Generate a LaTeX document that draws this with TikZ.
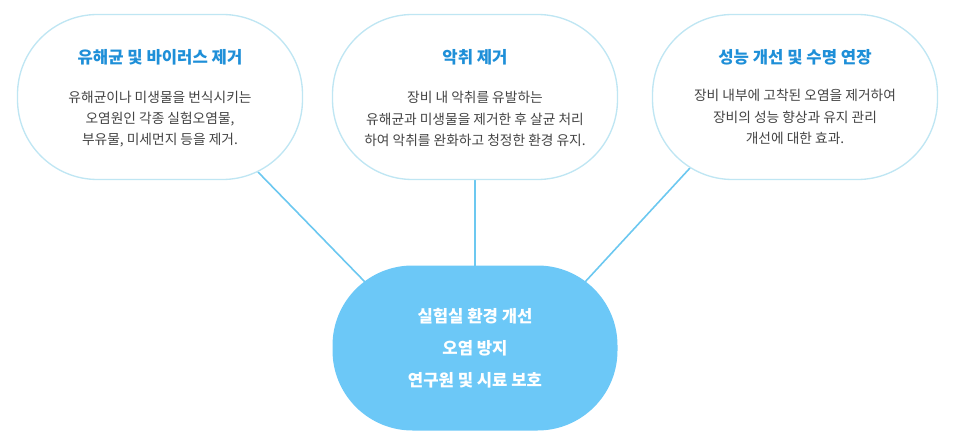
\documentclass[tikz,border=0pt]{standalone}
\usepackage{fontspec}
\setmainfont{Noto Sans CJK KR}
\definecolor{bord}{HTML}{BFE6F3}
\definecolor{ttl}{HTML}{1E8FD8}
\definecolor{body}{HTML}{444444}
\definecolor{fillc}{HTML}{6CC8F7}
\definecolor{linec}{HTML}{6CC8F0}
\tikzset{
 bubble/.style={draw=bord,line width=1pt,fill=white,rounded corners=60pt,minimum width=213.75pt,minimum height=123.75pt,inner sep=0pt},
 center/.style={fill=fillc,rounded corners=60pt,minimum width=213.75pt,minimum height=123.75pt,inner sep=0pt,text=white,font=\bfseries\fontsize{12.5}{24}\selectfont,align=center},
 ttlt/.style={text=ttl,font=\bfseries\fontsize{12.5}{14}\selectfont},
 bodyt/.style={text=body,font=\fontsize{10.3}{16}\selectfont,align=center},
 conn/.style={draw=linec,line width=1.2pt}
}
\begin{document}
\begin{tikzpicture}[x=0.75pt,y=-0.75pt]
\useasboundingbox (0,0) rectangle (966,445);
\draw[conn] (258,172) -- (365,282);
\draw[conn] (475,175) -- (475,268);
\draw[conn] (690,168) -- (585,282);
\node[bubble] (l) at (160,97) {};
\node[bubble] (m) at (475,97) {};
\node[bubble] (r) at (795,97) {};
\node[ttlt] (lt) at (160,57) {유해균 및 바이러스 제거};
\node[ttlt] (mt) at (475,57) {악취 제거};
\node[ttlt] (rt) at (795,57) {성능 개선 및 수명 연장};
\node[bodyt] (lb) at (160,119) {유해균이나 미생물을 번식시키는\\오염원인 각종 실험오염물,\\부유물, 미세먼지 등을 제거.};
\node[bodyt] (mb) at (475,119) {장비 내 악취를 유발하는\\유해균과 미생물을 제거한 후 살균 처리\\하여 악취를 완화하고 청정한 환경 유지.};
\node[bodyt] (rb) at (795,117) {장비 내부에 고착된 오염을 제거하여\\장비의 성능 향상과 유지 관리\\개선에 대한 효과.};
\node[center] (c) at (475,348) {실험실 환경 개선\\오염 방지\\연구원 및 시료 보호};
\end{tikzpicture}
\end{document}
